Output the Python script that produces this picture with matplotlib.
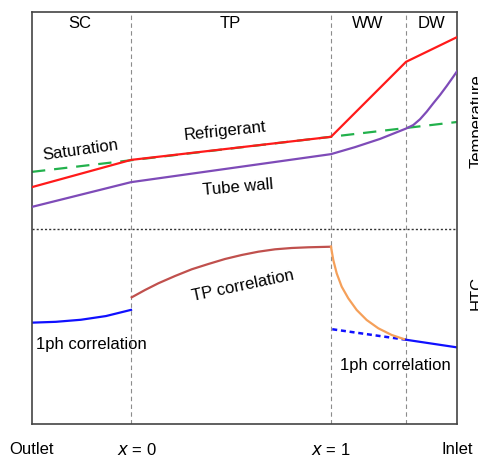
import matplotlib.pyplot as plt

plt.rcParams['font.family'] = ['Liberation Sans', 'DejaVu Sans']

# zone boundaries along the tube (0 = outlet, 1 = inlet)
x_sc_tp = 0.233
x_tp_ww = 0.7035
x_ww_dw = 0.88
y_split = 47.3

zones = ['SC', 'TP', 'WW', 'DW']
zone_x = [0.113, 0.466, 0.79, 0.939]

# temperature profiles
sat_x = [0.0, 1.0]
sat_y = [61.2, 73.3]
ref_x = [0.0, 0.233, 0.7035, 0.88, 1.0]
ref_y = [57.5, 64.1, 69.7, 87.9, 93.9]
wall_x = [0.0, 0.233, 0.7035, 0.76, 0.819, 0.8816, 0.8972, 0.9129, 0.9287,
          0.9442, 0.96, 0.9758, 0.9913, 1.0]
wall_y = [52.7, 58.7, 65.5, 67.2, 69.2, 71.77, 72.57, 73.96, 75.80,
          77.84, 79.85, 82.04, 84.30, 85.6]

# heat transfer coefficient curves
sp_out_x = [0.0, 0.056, 0.115, 0.174, 0.233]
sp_out_y = [24.6, 24.8, 25.3, 26.2, 27.7]
tp_x = [0.2346, 0.2659, 0.2972, 0.3365, 0.3758, 0.4148, 0.4541, 0.4934,
        0.5325, 0.5718, 0.6111, 0.6501, 0.7035]
tp_y = [30.75, 32.52, 34.15, 35.92, 37.55, 38.83, 40.05, 41.02,
        41.82, 42.40, 42.72, 42.89, 43.03]
ww_x = [0.7035, 0.7089, 0.7169, 0.7287, 0.7442, 0.764, 0.7875, 0.8148,
        0.8464, 0.88]
ww_y = [43.03, 39.81, 36.58, 33.33, 30.51, 27.67, 25.24, 23.23,
        21.6, 20.45]
sp_ext_x = [0.7065, 0.88]
sp_ext_y = [23.0, 20.45]
sp_in_x = [0.88, 1.0]
sp_in_y = [20.45, 18.6]

fig = plt.figure(figsize=(4.78, 4.57), dpi=100)
ax = fig.add_axes([32 / 478, 33 / 457, 425 / 478, 412 / 457])
ax.set_xlim(0, 1)
ax.set_ylim(0, 100)
ax.set_xticks([])
ax.set_yticks([])
for s in ax.spines.values():
    s.set_color('#444444')
    s.set_linewidth(1.2)

for xv in [x_sc_tp, x_tp_ww, x_ww_dw]:
    ax.axvline(xv, color='#8c8c8c', lw=0.8, ls=(0, (4, 3)), zorder=1)
ax.axhline(y_split, color='#333333', lw=1.0, ls=(0, (1.5, 1.5)), zorder=1)

ax.plot(sat_x, sat_y, color='#22b14c', lw=1.6, ls=(0, (6, 4)), zorder=2)
ax.plot(wall_x, wall_y, color='#7e4bb8', lw=1.6, zorder=3)
ax.plot(ref_x, ref_y, color='#ff1a1a', lw=1.6, zorder=4)

ax.plot(sp_out_x, sp_out_y, color='#1010ff', lw=1.6)
ax.plot(tp_x, tp_y, color='#c0504d', lw=1.6)
ax.plot(sp_ext_x, sp_ext_y, color='#1010ff', lw=1.8, ls=(0, (2, 1.5)))
ax.plot(ww_x, ww_y, color='#f5a05a', lw=1.6)
ax.plot(sp_in_x, sp_in_y, color='#1010ff', lw=1.6)

fs = 12
for name, xv in zip(zones, zone_x):
    ax.text(xv, 97.3, name, ha='center', va='center', fontsize=fs)

ax.text(0.115, 66.4, 'Saturation', ha='center', va='center', fontsize=fs, rotation=8)
ax.text(0.454, 71.1, 'Refrigerant', ha='center', va='center', fontsize=fs, rotation=6)
ax.text(0.485, 57.5, 'Tube wall', ha='center', va='center', fontsize=fs, rotation=5)
ax.text(0.497, 33.5, 'TP correlation', ha='center', va='center', fontsize=fs, rotation=12)
ax.text(0.139, 19.2, '1ph correlation', ha='center', va='center', fontsize=fs)
ax.text(0.854, 14.1, '1ph correlation', ha='center', va='center', fontsize=fs)

ax.text(1.03, 73.5, 'Temperature', ha='left', va='center', fontsize=fs,
        rotation=90, clip_on=False)
ax.text(1.03, 31.8, 'HTC', ha='left', va='center', fontsize=fs,
        rotation=90, clip_on=False)

ax.text(0.0, -6.3, 'Outlet', ha='center', va='center', fontsize=fs, clip_on=False)
ax.text(0.247, -6.3, '$x$ = 0', ha='center', va='center', fontsize=fs, clip_on=False)
ax.text(x_tp_ww, -6.3, '$x$ = 1', ha='center', va='center', fontsize=fs, clip_on=False)
ax.text(1.0, -6.3, 'Inlet', ha='center', va='center', fontsize=fs, clip_on=False)

fig.savefig('out.png', dpi=100)
